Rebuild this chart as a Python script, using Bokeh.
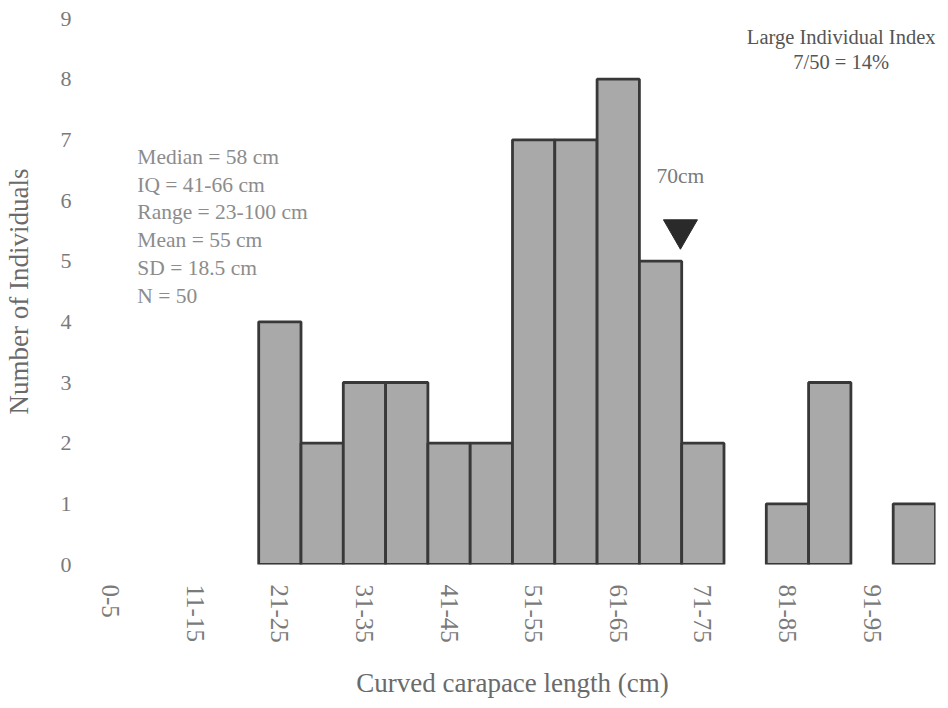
from bokeh.plotting import figure
from bokeh.models import Range1d, FixedTicker, ColumnDataSource
from bokeh.core.properties import value
from bokeh.embed import file_html
from bokeh.resources import INLINE

# ---- data ----
bins = ["0-5", "6-10", "11-15", "16-20", "21-25", "26-30", "31-35", "36-40",
        "41-45", "46-50", "51-55", "56-60", "61-65", "66-70", "71-75", "76-80",
        "81-85", "86-90", "91-95", "96-100"]
counts = [0, 0, 0, 0, 4, 2, 3, 3, 2, 2, 7, 7, 8, 5, 2, 0, 1, 3, 0, 1]
y_ticks = [0, 1, 2, 3, 4, 5, 6, 7, 8, 9]
stats_lines = ["Median = 58 cm", "IQ = 41-66 cm", "Range = 23-100 cm",
               "Mean = 55 cm", "SD = 18.5 cm", "N = 50"]
index_lines = ["Large Individual Index", "7/50 = 14%"]
marker_label = "70cm"
marker_x = 13.47   # position on the bin axis (~70 cm)

FONT = "Liberation Serif"

idx = [i for i, c in enumerate(counts) if c > 0]
src = ColumnDataSource(dict(x=idx, top=[counts[i] for i in idx]))

p = figure(width=940, height=700, output_backend="svg", toolbar_location=None,
           x_range=Range1d(-0.5, len(bins) - 0.5), y_range=Range1d(0, 9),
           min_border_left=89, min_border_right=5, min_border_top=18,
           min_border_bottom=135)
p.outline_line_color = None
p.xgrid.grid_line_color = None
p.ygrid.grid_line_color = None

p.vbar(x="x", top="top", width=1.0, bottom=0, source=src,
       fill_color="#a9a9a9", line_color="#383838", line_width=2.8)

# x axis
p.xaxis.ticker = FixedTicker(ticks=list(range(0, len(bins), 2)))
p.xaxis.major_label_overrides = {i: bins[i] for i in range(0, len(bins), 2)}
p.xaxis.major_label_orientation = "vertical"
p.xaxis.axis_line_color = None
p.xaxis.major_tick_line_color = None
p.xaxis.minor_tick_line_color = None
p.xaxis.major_tick_out = 0
p.xaxis.major_label_standoff = 20
p.xaxis.major_label_text_font = FONT
p.xaxis.major_label_text_font_size = "25px"
p.xaxis.major_label_text_color = "#7a7a7a"
p.xaxis.axis_label = "Curved carapace length (cm)"
p.xaxis.axis_label_text_font = FONT
p.xaxis.axis_label_text_font_style = "normal"
p.xaxis.axis_label_text_font_size = "27px"
p.xaxis.axis_label_text_color = "#6a6a6a"
p.xaxis.axis_label_standoff = 22

# y axis
p.yaxis.ticker = FixedTicker(ticks=y_ticks)
p.yaxis.axis_line_color = None
p.yaxis.major_tick_line_color = None
p.yaxis.minor_tick_line_color = None
p.yaxis.major_tick_out = 0
p.yaxis.major_label_standoff = 18
p.yaxis.major_label_text_font = FONT
p.yaxis.major_label_text_font_size = "22px"
p.yaxis.major_label_text_color = "#7a7a7a"
p.yaxis.axis_label = "Number of Individuals"
p.yaxis.axis_label_text_font = FONT
p.yaxis.axis_label_text_font_style = "normal"
p.yaxis.axis_label_text_font_size = "27px"
p.yaxis.axis_label_text_color = "#6a6a6a"
p.yaxis.axis_label_standoff = 24

# annotations
p.text(x=[0.63], y=[6.92], text=["\n".join(stats_lines)],
       text_font=value(FONT), text_font_size="21.5px", text_color="#8c8c8c",
       text_align="left", text_baseline="top", text_line_height=1.16)
p.text(x=[17.27], y=[8.49], text=["\n".join(index_lines)],
       text_font=value(FONT), text_font_size="20.5px", text_color="#555555",
       text_align="center", text_baseline="middle", text_line_height=1.14)
p.text(x=[marker_x], y=[6.40], text=[marker_label],
       text_font=value(FONT), text_font_size="21.5px", text_color="#7a7a7a",
       text_align="center", text_baseline="middle")
p.scatter(x=[marker_x], y=[5.52], marker="inverted_triangle", size=34,
          fill_color="#2a2a2a", line_color="#2a2a2a")

open("out.html", "w").write(file_html(p, INLINE))
